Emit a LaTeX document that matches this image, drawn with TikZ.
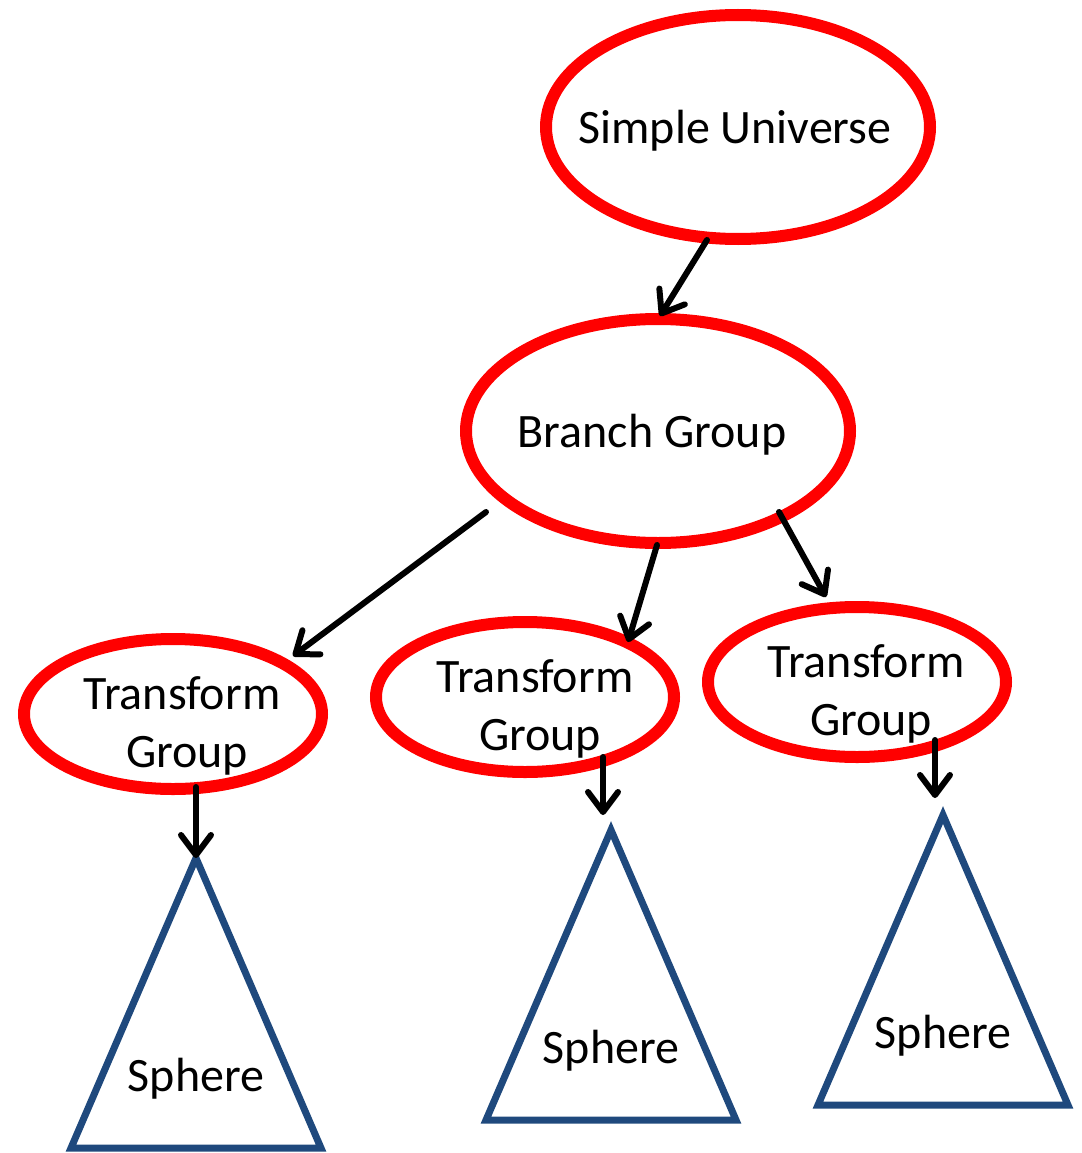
\documentclass[tikz,border=0pt]{standalone}
\usepackage{fontspec}
\setmainfont{Carlito}
\usetikzlibrary{arrows.meta,shapes.geometric}
\definecolor{sgred}{RGB}{255,0,0}
\definecolor{sgblue}{RGB}{31,73,125}

\begin{document}
\begin{tikzpicture}[x=1pt,y=-1pt,
  grp/.style={ellipse,draw=sgred,line width=12pt,inner sep=0pt},
  txt/.style={font=\fontsize{48}{58}\selectfont,align=center,inner sep=0pt},
  arr/.style={line width=6pt,-{Straight Barb[length=20pt,width=30pt,line width=6pt,round]},line cap=round},
  tri/.style={draw=sgblue,line width=7pt,line join=miter}]
\useasboundingbox (0,0) rectangle (1081,1153);
\node[grp,minimum width=384pt,minimum height=224pt] (su) at (738,127) {};
\node[txt] (su-t) at (735,131) {Simple Universe};
\node[grp,minimum width=384pt,minimum height=224pt] (bg) at (658,431) {};
\node[txt] (bg-t) at (652,435) {Branch Group};
\foreach \n/\x/\y/\dx in {tgl/173/714/9, tgm/525/697/10, tgr/857/682/9} {
  \node[grp,minimum width=298pt,minimum height=150pt] (\n) at (\x,\y) {};
  \node[txt] (\n-t) at (\x+\dx,\y+12) {Transform\\ \hspace*{10pt}Group}; }
\foreach \n/\x/\y in {sl/196/858, sm/611/830, sr/943/815} {
  \coordinate (\n) at (\x,\y);
  \draw[tri] (\n) -- ++(-125,290) -- ++(250,0) -- cycle;
  \node[txt] (\n-t) at (\x,\y+221) {Sphere}; }
\draw[arr] ([shift={(-31,113)}]su.center) -- ([shift={(2,-115)}]bg.center);
\draw[arr] ([shift={(-172,81)}]bg.center) -- ([shift={(120,-58)}]tgl.center);
\draw[arr] ([shift={(-1,114)}]bg.center) -- ([shift={(103,-55)}]tgm.center);
\draw[arr] ([shift={(121,81)}]bg.center) -- ([shift={(-31,-85)}]tgr.center);
\draw[arr] ([shift={(23,73)}]tgl.center) -- (sl);
\draw[arr] ([shift={(78,60)}]tgm.center) -- ([shift={(-8,-15)}]sm);
\draw[arr] ([shift={(78,58)}]tgr.center) -- ([shift={(-8,-17)}]sr);
\end{tikzpicture}
\end{document}
